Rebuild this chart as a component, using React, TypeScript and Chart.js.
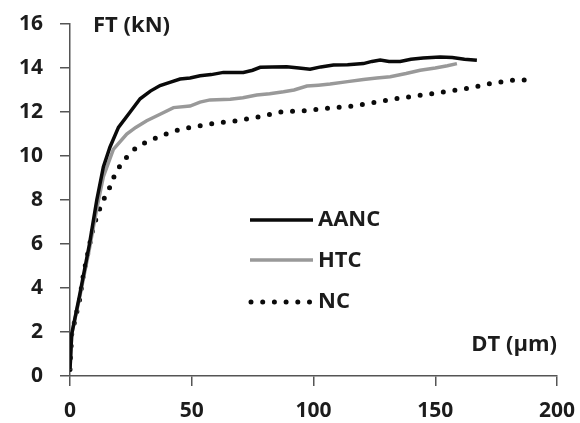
import React, { useEffect, useRef } from "react";
import { Chart, registerables } from "chart.js";

Chart.register(...registerables);

const seriesNames = ["AANC", "HTC", "NC"];

const aancX = [0, 0.7, 4, 8, 11, 13.7, 16.4, 19.9, 24.7, 28.8, 33, 37, 41, 45.2, 49.3, 53.4, 58, 63, 67, 71.2, 75, 78.1, 83, 89, 94, 98.6, 103, 108.2, 114, 120.5, 124, 127.4, 131, 135.6, 140, 145, 152, 157, 162, 167.1];
const aancY = [0.3, 1.9, 3.7, 6.0, 8.0, 9.5, 10.4, 11.3, 12.0, 12.6, 12.95, 13.2, 13.35, 13.5, 13.55, 13.65, 13.7, 13.8, 13.8, 13.8, 13.9, 14.03, 14.05, 14.06, 14.0, 13.94, 14.05, 14.14, 14.15, 14.2, 14.3, 14.36, 14.3, 14.3, 14.4, 14.45, 14.5, 14.48, 14.4, 14.35];

const htcX = [0, 0.7, 4, 8, 11, 13.7, 17.8, 23.3, 27, 31.5, 37, 42.5, 49.3, 53.4, 57.5, 65.8, 71, 76.7, 82, 87.7, 92, 97.3, 102, 106.8, 114, 120.5, 126, 131.5, 138, 143.8, 150, 155, 158.9];
const htcY = [0.3, 1.9, 3.6, 5.8, 7.6, 9.06, 10.3, 11.0, 11.3, 11.6, 11.9, 12.2, 12.27, 12.45, 12.55, 12.58, 12.65, 12.77, 12.83, 12.92, 13.0, 13.18, 13.22, 13.27, 13.38, 13.48, 13.55, 13.6, 13.75, 13.9, 14.0, 14.1, 14.2];

const ncX = [0, 0.7, 4, 5.5, 9.6, 13, 15.1, 17.1, 18.5, 20.8, 24, 27.4, 31.5, 35.6, 40.1, 44.9, 49.3, 58.9, 68.5, 78.1, 87, 96.6, 106.2, 115.8, 125.3, 134.9, 144.5, 154.1, 163.7, 172.9, 182.2, 187];
const ncY = [0.3, 1.9, 3.5, 4.6, 6.8, 7.85, 8.3, 8.75, 9.2, 9.6, 10.05, 10.4, 10.65, 10.83, 11.03, 11.2, 11.3, 11.48, 11.6, 11.79, 12.01, 12.06, 12.17, 12.27, 12.44, 12.62, 12.77, 12.92, 13.08, 13.3, 13.45, 13.45];

const xTicks = [0, 50, 100, 150, 200];
const yTicks = [0, 2, 4, 6, 8, 10, 12, 14, 16];
const yTitle = "FT (kN)";
const xTitle = "DT (\u03bcm)";

const FONT = "'Open Sans', Lato, sans-serif";
const TEXT = "#1c1c1c";
const AXIS = "#555555";

const toPts = (xs: number[], ys: number[]) => xs.map((x, i) => ({ x, y: ys[i] }));

const overlayPlugin = {
  id: "overlay",
  afterDraw(chart: any) {
    const ctx = chart.ctx;
    ctx.save();
    ctx.fillStyle = TEXT;
    ctx.font = `bold 22px ${FONT}`;
    ctx.textBaseline = "alphabetic";
    ctx.textAlign = "left";
    ctx.fillText(yTitle, 93, 32);
    ctx.textAlign = "right";
    ctx.fillText(xTitle, 557, 351);

    // legend
    const rows = [220, 260, 302];
    const baselines = [226, 267, 308];
    chart.data.datasets.forEach((ds: any, i: number) => {
      ctx.save();
      ctx.strokeStyle = ds.borderColor;
      ctx.lineWidth = ds.borderWidth;
      ctx.lineCap = ds.borderCapStyle || "butt";
      ctx.setLineDash(ds.borderDash || []);
      ctx.beginPath();
      ctx.moveTo(i === 2 ? 251 : 250, rows[i]);
      ctx.lineTo(313, rows[i]);
      ctx.stroke();
      ctx.restore();
      ctx.fillStyle = TEXT;
      ctx.font = `bold 22px ${FONT}`;
      ctx.textAlign = "left";
      ctx.fillText(ds.label, 318, baselines[i]);
    });
    ctx.restore();
  },
};

export default function App() {
  const ref = useRef<HTMLCanvasElement | null>(null);
  useEffect(() => {
    document.body.style.margin = "0";
    const canvas = ref.current!;
    const chart = new Chart(canvas, {
      type: "scatter",
      data: {
        datasets: [
          {
            label: seriesNames[0],
            data: toPts(aancX, aancY),
            showLine: true,
            borderColor: "#0a0a0a",
            borderWidth: 3.5,
            pointRadius: 0,
            tension: 0,
          },
          {
            label: seriesNames[1],
            data: toPts(htcX, htcY),
            showLine: true,
            borderColor: "#999999",
            borderWidth: 3.5,
            pointRadius: 0,
            tension: 0,
          },
          {
            label: seriesNames[2],
            data: toPts(ncX, ncY),
            showLine: true,
            borderColor: "#0a0a0a",
            borderWidth: 5,
            borderDash: [0, 11.7],
            borderCapStyle: "round",
            pointRadius: 0,
            tension: 0,
          },
        ],
      },
      options: {
        responsive: false,
        animation: false,
        layout: { padding: { left: 0, right: 23, top: 24, bottom: 0 } },
        plugins: { legend: { display: false }, tooltip: { enabled: false } },
        scales: {
          x: {
            type: "linear",
            min: 0,
            max: 200,
            afterBuildTicks: (s: any) => {
              s.ticks = xTicks.map((v) => ({ value: v }));
            },
            afterFit: (s: any) => {
              s.height = 47;
              s.paddingLeft = 0;
              s.paddingRight = 0;
            },
            grid: { drawOnChartArea: false, drawTicks: true, tickLength: 10, color: AXIS, lineWidth: 1.5 },
            border: { display: true, color: AXIS, width: 1.5 },
            ticks: { color: TEXT, font: { family: FONT, size: 21, weight: "bold" }, padding: 12, maxRotation: 0, autoSkip: false },
          },
          y: {
            type: "linear",
            min: 0,
            max: 16,
            afterBuildTicks: (s: any) => {
              s.ticks = yTicks.map((v) => ({ value: v }));
            },
            afterFit: (s: any) => {
              s.width = 70;
              s.paddingTop = 0;
              s.paddingBottom = 0;
            },
            grid: { drawOnChartArea: false, drawTicks: true, tickLength: 10, color: AXIS, lineWidth: 1.5 },
            border: { display: true, color: AXIS, width: 1.5 },
            ticks: { color: TEXT, font: { family: FONT, size: 21, weight: "bold" }, padding: 17, autoSkip: false },
          },
        },
      },
      plugins: [overlayPlugin],
    } as any);
    return () => chart.destroy();
  }, []);
  return (
    <div style={{ width: 580, height: 423, background: "#fff" }}>
      <canvas ref={ref} width={580} height={423} style={{ display: "block" }} />
    </div>
  );
}
